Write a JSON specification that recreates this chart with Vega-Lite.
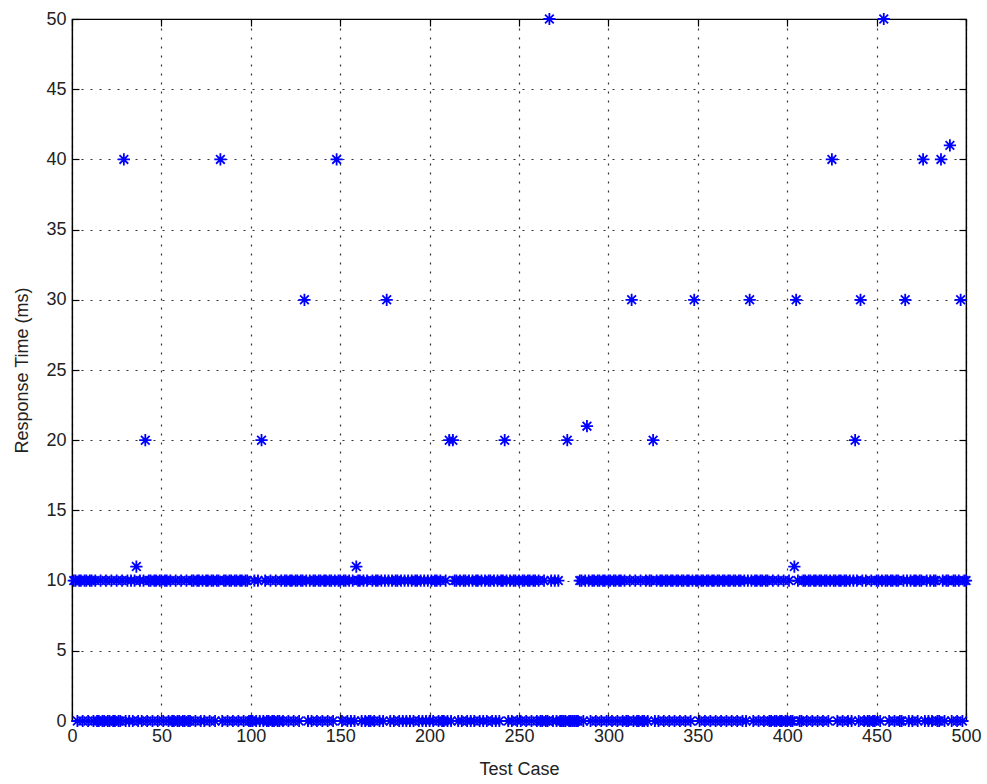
{
"$schema": "https://vega.github.io/schema/vega-lite/v6.json",
"width": 894, "height": 702,
"autosize": {"type": "none"},
"padding": {"left": 72, "top": 19, "right": 21, "bottom": 63},
"background": "white",
"config": {
 "view": {"stroke": "black", "strokeWidth": 1.2},
 "font": "Liberation Sans",
 "axis": {"domainColor": "black", "domainWidth": 1.2, "tickColor": "black", "tickWidth": 1.2, "tickSize": -7, "labelPadding": 13, "labelFlush": false, "labelFont": "Liberation Sans", "labelFontSize": 18, "labelColor": "#222", "titleFont": "Liberation Sans", "titleFontSize": 18, "titleFontWeight": "normal", "titleColor": "#222", "gridColor": "#333", "gridDash": [2, 7], "gridWidth": 1.2, "gridOpacity": 1}
},
"data": {"values": [
{"t":1,"v":10},{"t":2,"v":10},{"t":3,"v":0},{"t":4,"v":10},{"t":5,"v":10},{"t":6,"v":0},{"t":7,"v":10},{"t":8,"v":10},{"t":9,"v":0},{"t":10,"v":10},
{"t":11,"v":10},{"t":12,"v":0},{"t":13,"v":10},{"t":14,"v":0},{"t":15,"v":0},{"t":16,"v":10},{"t":17,"v":0},{"t":18,"v":0},{"t":19,"v":10},{"t":20,"v":0},
{"t":21,"v":0},{"t":22,"v":10},{"t":23,"v":0},{"t":24,"v":0},{"t":25,"v":10},{"t":26,"v":0},{"t":27,"v":0},{"t":28,"v":10},{"t":29,"v":40},{"t":30,"v":0},
{"t":31,"v":10},{"t":32,"v":0},{"t":33,"v":10},{"t":34,"v":0},{"t":35,"v":10},{"t":36,"v":11},{"t":37,"v":0},{"t":38,"v":10},{"t":39,"v":0},{"t":40,"v":10},
{"t":41,"v":20},{"t":42,"v":0},{"t":43,"v":10},{"t":44,"v":10},{"t":45,"v":0},{"t":46,"v":10},{"t":47,"v":10},{"t":48,"v":0},{"t":49,"v":10},{"t":50,"v":10},
{"t":51,"v":0},{"t":52,"v":10},{"t":53,"v":10},{"t":54,"v":0},{"t":55,"v":10},{"t":56,"v":0},{"t":57,"v":0},{"t":58,"v":10},{"t":59,"v":0},{"t":60,"v":0},
{"t":61,"v":10},{"t":62,"v":0},{"t":63,"v":0},{"t":64,"v":10},{"t":65,"v":0},{"t":66,"v":0},{"t":67,"v":10},{"t":68,"v":10},{"t":69,"v":0},{"t":70,"v":10},
{"t":71,"v":10},{"t":72,"v":0},{"t":73,"v":10},{"t":74,"v":0},{"t":75,"v":10},{"t":76,"v":10},{"t":77,"v":0},{"t":78,"v":10},{"t":79,"v":10},{"t":80,"v":0},
{"t":81,"v":10},{"t":82,"v":10},{"t":83,"v":40},{"t":84,"v":0},{"t":85,"v":10},{"t":86,"v":10},{"t":87,"v":0},{"t":88,"v":10},{"t":89,"v":10},{"t":90,"v":0},
{"t":91,"v":10},{"t":92,"v":10},{"t":93,"v":0},{"t":94,"v":10},{"t":95,"v":10},{"t":96,"v":0},{"t":97,"v":10},{"t":98,"v":10},{"t":99,"v":0},{"t":100,"v":0},
{"t":101,"v":0},{"t":102,"v":10},{"t":103,"v":0},{"t":104,"v":10},{"t":105,"v":0},{"t":106,"v":20},{"t":107,"v":0},{"t":108,"v":10},{"t":109,"v":0},{"t":110,"v":0},
{"t":111,"v":10},{"t":112,"v":0},{"t":113,"v":0},{"t":114,"v":10},{"t":115,"v":0},{"t":116,"v":0},{"t":117,"v":10},{"t":118,"v":0},{"t":119,"v":10},{"t":120,"v":10},
{"t":121,"v":0},{"t":122,"v":10},{"t":123,"v":10},{"t":124,"v":0},{"t":125,"v":10},{"t":126,"v":10},{"t":127,"v":0},{"t":128,"v":10},{"t":129,"v":10},{"t":130,"v":30},
{"t":131,"v":10},{"t":132,"v":0},{"t":133,"v":10},{"t":134,"v":0},{"t":135,"v":10},{"t":136,"v":10},{"t":137,"v":0},{"t":138,"v":10},{"t":139,"v":10},{"t":140,"v":0},
{"t":141,"v":10},{"t":142,"v":10},{"t":143,"v":0},{"t":144,"v":10},{"t":145,"v":10},{"t":146,"v":0},{"t":147,"v":10},{"t":148,"v":40},{"t":149,"v":10},{"t":150,"v":10},
{"t":151,"v":0},{"t":152,"v":10},{"t":153,"v":10},{"t":154,"v":0},{"t":155,"v":10},{"t":156,"v":0},{"t":157,"v":10},{"t":158,"v":0},{"t":159,"v":11},{"t":160,"v":10},
{"t":161,"v":10},{"t":162,"v":0},{"t":163,"v":10},{"t":164,"v":0},{"t":165,"v":10},{"t":166,"v":0},{"t":167,"v":0},{"t":168,"v":10},{"t":169,"v":0},{"t":170,"v":10},
{"t":171,"v":10},{"t":172,"v":0},{"t":173,"v":10},{"t":174,"v":0},{"t":175,"v":10},{"t":176,"v":30},{"t":177,"v":10},{"t":178,"v":0},{"t":179,"v":10},{"t":180,"v":0},
{"t":181,"v":10},{"t":182,"v":10},{"t":183,"v":0},{"t":184,"v":10},{"t":185,"v":0},{"t":186,"v":10},{"t":187,"v":0},{"t":188,"v":10},{"t":189,"v":0},{"t":190,"v":10},
{"t":191,"v":0},{"t":192,"v":10},{"t":193,"v":10},{"t":194,"v":0},{"t":195,"v":10},{"t":196,"v":0},{"t":197,"v":10},{"t":198,"v":0},{"t":199,"v":10},{"t":200,"v":0},
{"t":201,"v":10},{"t":202,"v":0},{"t":203,"v":10},{"t":204,"v":10},{"t":205,"v":0},{"t":206,"v":10},{"t":207,"v":0},{"t":208,"v":0},{"t":209,"v":10},{"t":210,"v":0},
{"t":211,"v":20},{"t":212,"v":0},{"t":213,"v":20},{"t":214,"v":10},{"t":215,"v":10},{"t":216,"v":0},{"t":217,"v":10},{"t":218,"v":0},{"t":219,"v":10},{"t":220,"v":10},
{"t":221,"v":0},{"t":222,"v":10},{"t":223,"v":0},{"t":224,"v":10},{"t":225,"v":0},{"t":226,"v":10},{"t":227,"v":10},{"t":228,"v":0},{"t":229,"v":10},{"t":230,"v":0},
{"t":231,"v":10},{"t":232,"v":0},{"t":233,"v":10},{"t":234,"v":10},{"t":235,"v":0},{"t":236,"v":10},{"t":237,"v":0},{"t":238,"v":10},{"t":239,"v":0},{"t":240,"v":10},
{"t":241,"v":10},{"t":242,"v":20},{"t":243,"v":10},{"t":244,"v":0},{"t":245,"v":10},{"t":246,"v":0},{"t":247,"v":10},{"t":248,"v":10},{"t":249,"v":0},{"t":250,"v":10},
{"t":251,"v":0},{"t":252,"v":10},{"t":253,"v":10},{"t":254,"v":0},{"t":255,"v":10},{"t":256,"v":10},{"t":257,"v":0},{"t":258,"v":10},{"t":259,"v":10},{"t":260,"v":0},
{"t":261,"v":10},{"t":262,"v":0},{"t":263,"v":0},{"t":264,"v":10},{"t":265,"v":0},{"t":266,"v":0},{"t":267,"v":50},{"t":268,"v":10},{"t":269,"v":0},{"t":270,"v":10},
{"t":271,"v":0},{"t":272,"v":10},{"t":273,"v":0},{"t":274,"v":0},{"t":275,"v":0},{"t":276,"v":0},{"t":277,"v":20},{"t":278,"v":0},{"t":279,"v":0},{"t":280,"v":0},
{"t":281,"v":0},{"t":282,"v":0},{"t":283,"v":0},{"t":284,"v":10},{"t":285,"v":10},{"t":286,"v":0},{"t":287,"v":10},{"t":288,"v":21},{"t":289,"v":10},{"t":290,"v":0},
{"t":291,"v":10},{"t":292,"v":10},{"t":293,"v":0},{"t":294,"v":10},{"t":295,"v":10},{"t":296,"v":0},{"t":297,"v":10},{"t":298,"v":10},{"t":299,"v":0},{"t":300,"v":10},
{"t":301,"v":10},{"t":302,"v":0},{"t":303,"v":10},{"t":304,"v":10},{"t":305,"v":0},{"t":306,"v":10},{"t":307,"v":10},{"t":308,"v":0},{"t":309,"v":10},{"t":310,"v":0},
{"t":311,"v":0},{"t":312,"v":10},{"t":313,"v":30},{"t":314,"v":0},{"t":315,"v":10},{"t":316,"v":0},{"t":317,"v":0},{"t":318,"v":10},{"t":319,"v":0},{"t":320,"v":0},
{"t":321,"v":10},{"t":322,"v":0},{"t":323,"v":10},{"t":324,"v":10},{"t":325,"v":20},{"t":326,"v":0},{"t":327,"v":10},{"t":328,"v":0},{"t":329,"v":10},{"t":330,"v":10},
{"t":331,"v":0},{"t":332,"v":10},{"t":333,"v":10},{"t":334,"v":0},{"t":335,"v":10},{"t":336,"v":10},{"t":337,"v":0},{"t":338,"v":10},{"t":339,"v":10},{"t":340,"v":0},
{"t":341,"v":10},{"t":342,"v":10},{"t":343,"v":0},{"t":344,"v":10},{"t":345,"v":10},{"t":346,"v":0},{"t":347,"v":10},{"t":348,"v":30},{"t":349,"v":10},{"t":350,"v":10},
{"t":351,"v":0},{"t":352,"v":10},{"t":353,"v":10},{"t":354,"v":0},{"t":355,"v":10},{"t":356,"v":10},{"t":357,"v":0},{"t":358,"v":10},{"t":359,"v":10},{"t":360,"v":0},
{"t":361,"v":10},{"t":362,"v":10},{"t":363,"v":0},{"t":364,"v":10},{"t":365,"v":10},{"t":366,"v":0},{"t":367,"v":10},{"t":368,"v":10},{"t":369,"v":0},{"t":370,"v":10},
{"t":371,"v":10},{"t":372,"v":0},{"t":373,"v":10},{"t":374,"v":10},{"t":375,"v":0},{"t":376,"v":10},{"t":377,"v":0},{"t":378,"v":10},{"t":379,"v":30},{"t":380,"v":10},
{"t":381,"v":0},{"t":382,"v":10},{"t":383,"v":10},{"t":384,"v":0},{"t":385,"v":10},{"t":386,"v":10},{"t":387,"v":0},{"t":388,"v":10},{"t":389,"v":10},{"t":390,"v":0},
{"t":391,"v":0},{"t":392,"v":10},{"t":393,"v":0},{"t":394,"v":0},{"t":395,"v":10},{"t":396,"v":0},{"t":397,"v":0},{"t":398,"v":10},{"t":399,"v":0},{"t":400,"v":0},
{"t":401,"v":10},{"t":402,"v":0},{"t":403,"v":0},{"t":404,"v":11},{"t":405,"v":30},{"t":406,"v":10},{"t":407,"v":0},{"t":408,"v":0},{"t":409,"v":10},{"t":410,"v":10},
{"t":411,"v":0},{"t":412,"v":10},{"t":413,"v":10},{"t":414,"v":0},{"t":415,"v":10},{"t":416,"v":10},{"t":417,"v":0},{"t":418,"v":10},{"t":419,"v":10},{"t":420,"v":0},
{"t":421,"v":10},{"t":422,"v":10},{"t":423,"v":0},{"t":424,"v":10},{"t":425,"v":40},{"t":426,"v":10},{"t":427,"v":10},{"t":428,"v":0},{"t":429,"v":10},{"t":430,"v":10},
{"t":431,"v":0},{"t":432,"v":10},{"t":433,"v":10},{"t":434,"v":0},{"t":435,"v":10},{"t":436,"v":0},{"t":437,"v":10},{"t":438,"v":20},{"t":439,"v":10},{"t":440,"v":0},
{"t":441,"v":30},{"t":442,"v":10},{"t":443,"v":0},{"t":444,"v":10},{"t":445,"v":0},{"t":446,"v":0},{"t":447,"v":10},{"t":448,"v":0},{"t":449,"v":0},{"t":450,"v":10},
{"t":451,"v":10},{"t":452,"v":0},{"t":453,"v":10},{"t":454,"v":50},{"t":455,"v":10},{"t":456,"v":10},{"t":457,"v":0},{"t":458,"v":10},{"t":459,"v":10},{"t":460,"v":0},
{"t":461,"v":10},{"t":462,"v":10},{"t":463,"v":0},{"t":464,"v":0},{"t":465,"v":10},{"t":466,"v":30},{"t":467,"v":10},{"t":468,"v":0},{"t":469,"v":10},{"t":470,"v":0},
{"t":471,"v":10},{"t":472,"v":10},{"t":473,"v":0},{"t":474,"v":10},{"t":475,"v":10},{"t":476,"v":40},{"t":477,"v":0},{"t":478,"v":10},{"t":479,"v":0},{"t":480,"v":10},
{"t":481,"v":0},{"t":482,"v":10},{"t":483,"v":10},{"t":484,"v":0},{"t":485,"v":0},{"t":486,"v":40},{"t":487,"v":10},{"t":488,"v":0},{"t":489,"v":10},{"t":490,"v":10},
{"t":491,"v":41},{"t":492,"v":0},{"t":493,"v":10},{"t":494,"v":10},{"t":495,"v":0},{"t":496,"v":10},{"t":497,"v":30},{"t":498,"v":0},{"t":499,"v":10},{"t":500,"v":10}
]},
"layer": [
 {
  "mark": {"type": "point", "shape": "M-1,0L1,0M0,-1L0,1M-0.71,-0.71L0.71,0.71M-0.71,0.71L0.71,-0.71", "filled": false, "stroke": "#0000ff", "strokeWidth": 1.8, "size": 150, "opacity": 1, "clip": false},
  "encoding": {
   "x": {"field": "t", "type": "quantitative", "scale": {"domain": [0, 500], "nice": false, "zero": false}, "axis": {"orient": "bottom", "values": [0,50,100,150,200,250,300,350,400,450,500], "title": "Test Case", "titlePadding": 15}},
   "y": {"field": "v", "type": "quantitative", "scale": {"domain": [0, 50], "nice": false}, "axis": {"orient": "left", "values": [0,5,10,15,20,25,30,35,40,45,50], "title": "Response Time (ms)", "titlePadding": 14}}
  }
 },
 {
  "mark": {"type": "point", "opacity": 0},
  "encoding": {
   "x": {"field": "t", "type": "quantitative", "scale": {"domain": [0, 500], "nice": false, "zero": false}, "axis": {"orient": "top", "values": [0,50,100,150,200,250,300,350,400,450,500], "labels": false, "grid": false, "title": null}},
   "y": {"field": "v", "type": "quantitative", "scale": {"domain": [0, 50], "nice": false}, "axis": {"orient": "right", "values": [0,5,10,15,20,25,30,35,40,45,50], "labels": false, "grid": false, "title": null}}
  }
 }
],
"resolve": {"axis": {"x": "independent", "y": "independent"}}
}
